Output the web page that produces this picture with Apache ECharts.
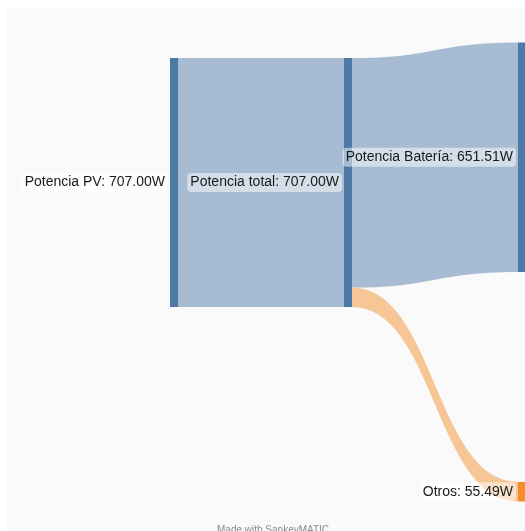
<!DOCTYPE html>
<html>
<head>
<meta charset="utf-8">
<script src="https://cdn.jsdelivr.net/npm/echarts@6/dist/echarts.min.js"></script>
<style>
html,body{margin:0;padding:0;background:#ffffff;}
#chart{width:525px;height:531px;}
</style>
</head>
<body>
<div id="chart"></div>
<script>
// Data
const nodeNames = ['Potencia PV', 'Potencia total', 'Potencia Batería', 'Otros'];
const nodeColors = ['#4e79a7', '#4e79a7', '#4e79a7', '#f28e2b'];
const linkSources = ['Potencia PV', 'Potencia total', 'Potencia total'];
const linkTargets = ['Potencia total', 'Potencia Batería', 'Otros'];
const linkValues = [707.00, 651.51, 55.49];
const unit = 'W';
const footerText = 'Made with SankeyMATIC';

const chart = echarts.init(document.getElementById('chart'), null, {renderer: 'canvas'});

const localYs = {'Potencia PV': 0.034, 'Potencia total': 0.034};

const option = {
  backgroundColor: '#ffffff',
  animation: false,
  graphic: [
    {type: 'rect', left: 7, top: 8, shape: {width: 520, height: 525}, style: {fill: '#fafafa'}, z: -10, silent: true},
    {type: 'text', left: 217, top: 525, style: {text: footerText, fill: '#888888', font: '10px "Liberation Sans", Arial, sans-serif'}, silent: true}
  ],
  series: [{
    type: 'sankey',
    left: 170,
    top: 42.5,
    width: 356,
    height: 459,
    nodeWidth: 8,
    nodeGap: 210,
    layoutIterations: 0,
    draggable: false,
    emphasis: {disabled: true},
    data: nodeNames.map((n, i) => {
      const d = {name: n, itemStyle: {color: nodeColors[i], borderWidth: 0}};
      if (localYs[n] != null) d.localY = localYs[n];
      return d;
    }),
    links: linkSources.map((s, i) => ({source: s, target: linkTargets[i], value: linkValues[i]})),
    lineStyle: {color: 'target', opacity: 0.48, curveness: 0.5},
    label: {
      show: true,
      position: 'left',
      distance: 2,
      color: '#1a1a1a',
      fontSize: 14,
      fontFamily: '"Liberation Sans", Arial, sans-serif',
      backgroundColor: 'rgba(255,255,255,0.5)',
      borderRadius: 4,
      padding: [4, 3, 1, 3],
      formatter: p => p.name + ': ' + p.value.toFixed(2) + unit
    }
  }]
};
chart.setOption(option);
</script>
</body>
</html>
